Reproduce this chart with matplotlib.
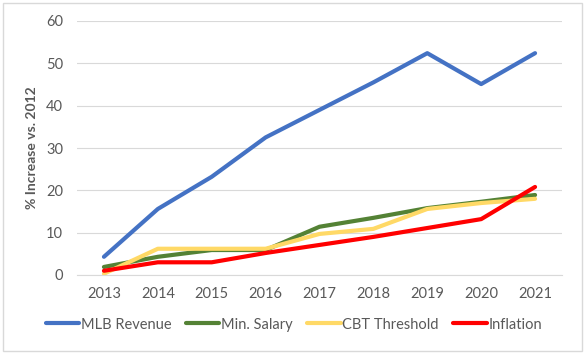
import matplotlib.pyplot as plt
from matplotlib.patches import Rectangle

years = ["2013", "2014", "2015", "2016", "2017", "2018", "2019", "2020", "2021"]
mlb_revenue = [4.3, 15.6, 23.2, 32.5, 39.0, 45.5, 52.4, 45.1, 52.4]
min_salary = [1.9, 4.3, 5.9, 5.9, 11.4, 13.5, 15.8, 17.3, 18.9]
cbt_threshold = [0.3, 6.2, 6.2, 6.2, 9.7, 10.9, 15.6, 17.0, 18.0]
inflation = [1.0, 3.0, 3.0, 5.2, 7.1, 9.0, 11.1, 13.2, 20.8]

plt.rcParams['font.family'] = ['Lato', 'DejaVu Sans']

fig = plt.figure(figsize=(5.85, 3.54), dpi=100)
ax = fig.add_axes([77/585, 1 - 275/354, (562-77)/585, (275-21)/354])

x = range(len(years))
ax.plot(x, mlb_revenue, color="#4472C4", lw=3, label="MLB Revenue", solid_capstyle="round")
ax.plot(x, min_salary, color="#548235", lw=3, label="Min. Salary", solid_capstyle="round")
ax.plot(x, cbt_threshold, color="#FFD966", lw=3, label="CBT Threshold", solid_capstyle="round")
ax.plot(x, inflation, color="#FF0000", lw=3, label="Inflation", solid_capstyle="round")

ax.set_xlim(-0.5, len(years) - 0.5)
ax.set_ylim(0, 60)
ax.set_yticks(range(0, 61, 10))
ax.set_xticks(list(x))
ax.set_xticklabels(years)
ax.grid(axis="y", color="#D9D9D9", lw=0.8)
ax.set_axisbelow(True)
for s in ["top", "right", "left"]:
    ax.spines[s].set_visible(False)
ax.spines["bottom"].set_color("#D9D9D9")
ax.tick_params(length=0, colors="#595959", labelsize=10.5)
ax.tick_params(axis="x", pad=9)
ax.tick_params(axis="y", pad=10)
ax.set_ylabel("% Increase vs. 2012", color="#595959", fontsize=10, fontweight="bold", labelpad=6)

ax.legend(loc="center", bbox_to_anchor=(0.447, -0.195), ncol=4, frameon=False,
          fontsize=10.5, labelcolor="#595959", handlelength=2.3, handletextpad=0.1,
          columnspacing=1.0)

fig.patches.append(Rectangle((3/585, 3/354), 1 - 6/585, 1 - 6/354, transform=fig.transFigure,
                             fill=False, edgecolor="#D9D9D9", lw=1))

fig.savefig("out.png", dpi=100)
